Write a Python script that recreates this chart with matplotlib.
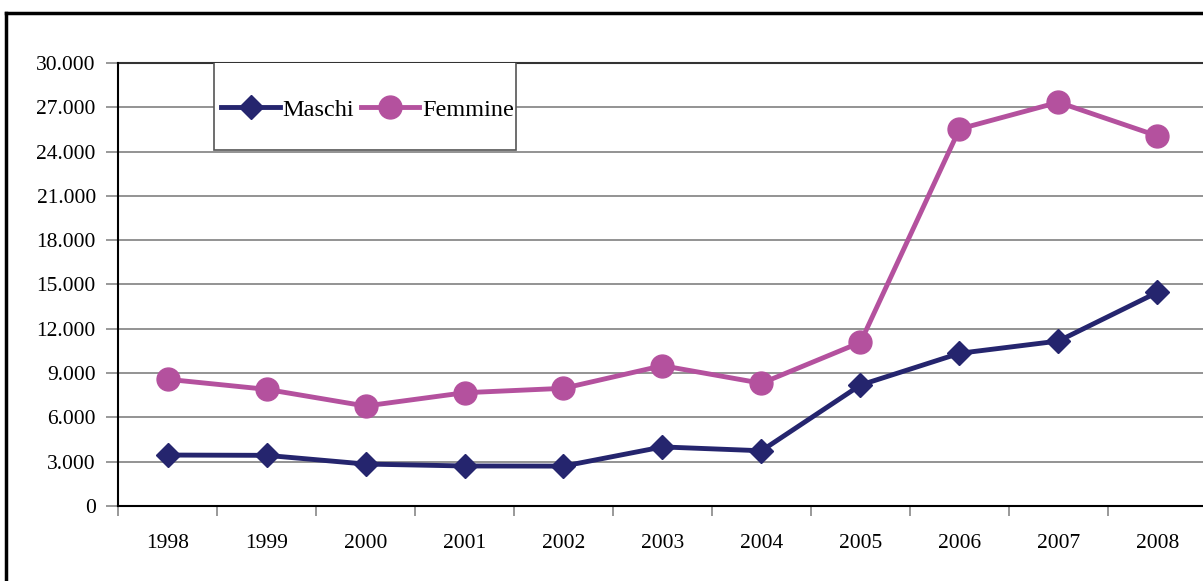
import matplotlib
matplotlib.use('Agg')
import matplotlib.pyplot as plt
from matplotlib.patches import Rectangle
from matplotlib.lines import Line2D
from matplotlib.ticker import FuncFormatter, MultipleLocator

plt.rcParams['font.family'] = ['Liberation Serif', 'DejaVu Serif']

# Data
years = ['1998', '1999', '2000', '2001', '2002', '2003', '2004', '2005', '2006', '2007', '2008']
maschi = [3450, 3430, 2840, 2710, 2700, 4000, 3740, 8190, 10340, 11170, 14470]
femmine = [8580, 7900, 6770, 7670, 7970, 9500, 8310, 11080, 25530, 27340, 25060]

col_m = '#25256e'
col_f = '#b4519e'

fig = plt.figure(figsize=(12.03, 5.81), dpi=100)
ax = fig.add_axes([0.0981, 0.1291, 0.9052, 0.7625])

x = list(range(len(years)))
ax.plot(x, maschi, color=col_m, lw=3.5, marker='D', ms=12, label='Maschi', zorder=4)
ax.plot(x, femmine, color=col_f, lw=3.5, marker='o', ms=16.5, label='Femmine', zorder=3)

ax.set_xlim(-0.5, len(years) - 0.5)
ax.set_ylim(0, 30000)
ax.yaxis.set_major_locator(MultipleLocator(3000))
ax.yaxis.set_major_formatter(FuncFormatter(lambda v, p: f'{int(v):,}'.replace(',', '.')))
ax.set_xticks(x)
ax.set_xticklabels(years)
ax.set_xticks([i - 0.5 for i in range(len(years) + 1)], minor=True)
ax.tick_params(axis='x', which='major', length=0, pad=20, labelsize=15.5)
ax.tick_params(axis='x', which='minor', length=7, color='#888888', width=1.2)
ax.tick_params(axis='y', length=9, color='#888888', width=1.2, pad=7, labelsize=15.5)

ax.grid(axis='y', color='#808080', lw=1.2, clip_on=False)
ax.set_axisbelow(True)
for s in ['top', 'right']:
    ax.spines[s].set_visible(False)
ax.spines['left'].set_linewidth(1.5)
ax.spines['bottom'].set_linewidth(1.5)
ax.axhline(30000, color='#333333', lw=1.5, clip_on=False, zorder=1)

# legend box
box = Rectangle((0.0882, 0.8036), 0.2773, 0.1986, transform=ax.transAxes,
                facecolor='white', edgecolor='#555555', lw=1.2, zorder=5)
ax.add_patch(box)
leg = ax.legend(loc='center', bbox_to_anchor=(0.0905, 0.7946, 0.2773, 0.1986),
                ncol=2, frameon=False, fontsize=17.5, handlelength=2.4,
                handletextpad=0.1, columnspacing=0.3, borderaxespad=0)
leg.set_zorder(6)

# outer frame
fig.add_artist(Line2D([0.005, 0.005], [0.0, 0.978], color='black', lw=2.5))
fig.add_artist(Line2D([0.005, 1.0], [0.978, 0.978], color='black', lw=2.5))

fig.savefig('out.png', dpi=100)
